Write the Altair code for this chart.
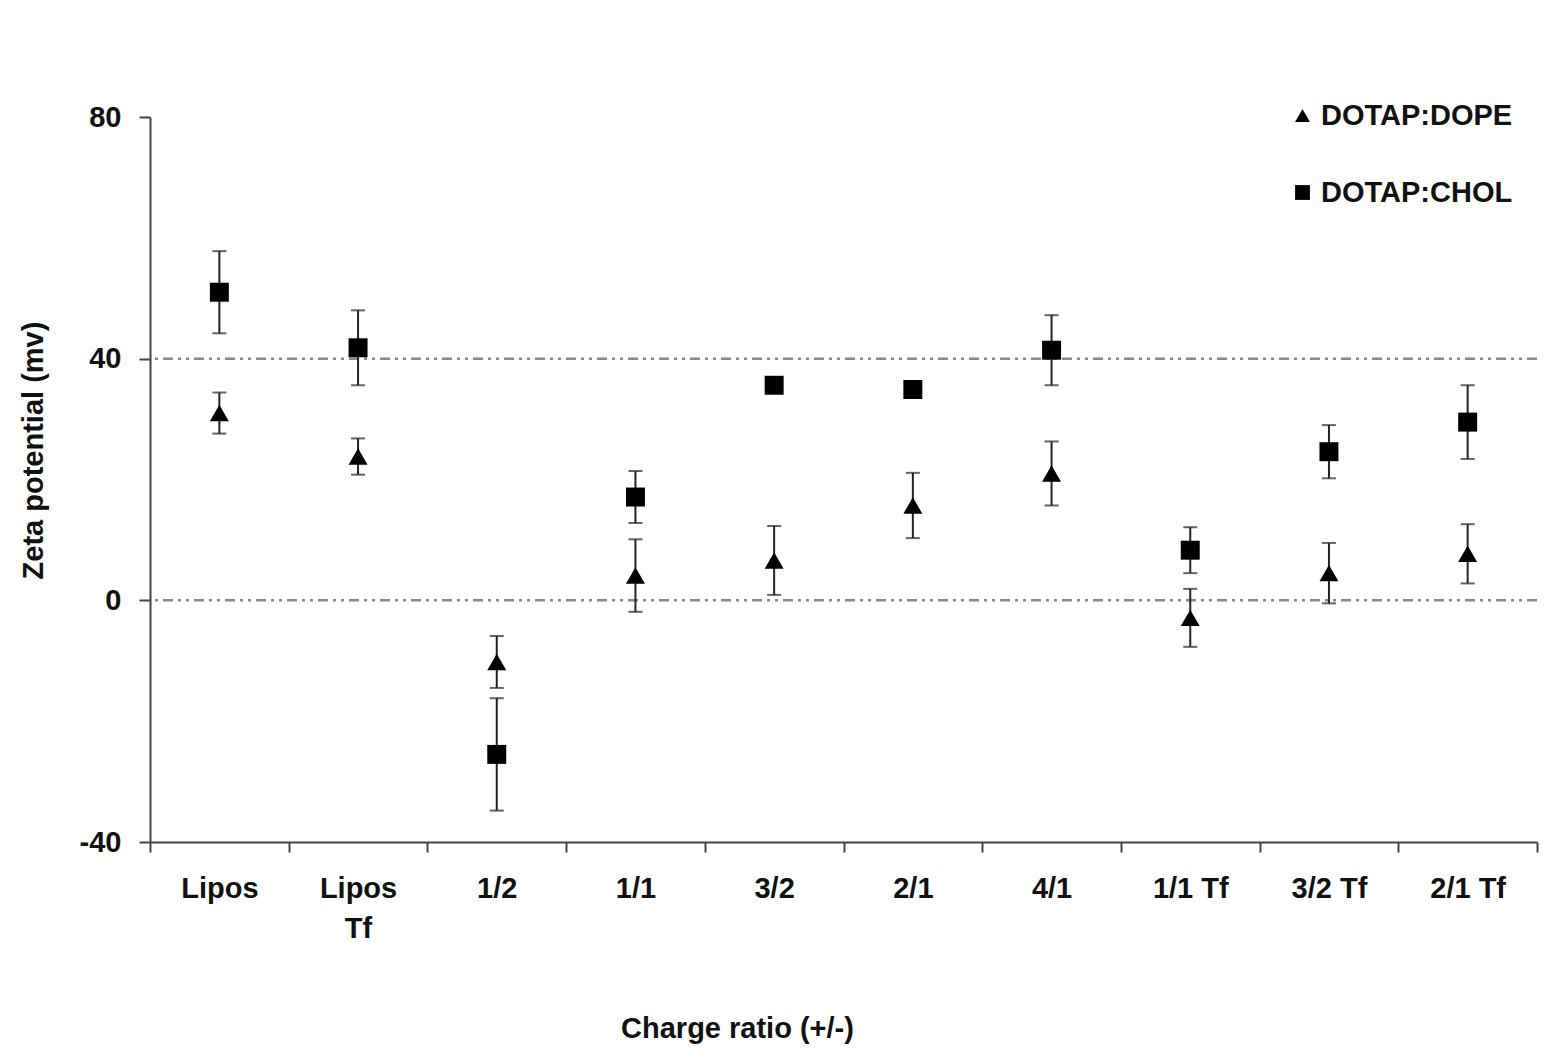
import altair as alt
import pandas as pd

categories = ["Lipos", "Lipos Tf", "1/2", "1/1", "3/2", "2/1", "4/1", "1/1 Tf", "3/2 Tf", "2/1 Tf"]
dope_mean = [31.0, 23.8, -10.2, 4.1, 6.6, 15.7, 21.0, -2.9, 4.5, 7.7]
dope_err = [3.4, 3.0, 4.3, 6.0, 5.7, 5.4, 5.3, 4.8, 5.0, 4.9]
chol_mean = [51.0, 41.8, -25.5, 17.1, 35.6, 34.9, 41.4, 8.3, 24.6, 29.5]
chol_err = [6.8, 6.2, 9.3, 4.3, 0.4, 0.8, 5.8, 3.8, 4.4, 6.1]
series = ["DOTAP:DOPE", "DOTAP:CHOL"]
ref_lines = [0, 40]
y_ticks = [-40, 0, 40, 80]

rows = []
for i, c in enumerate(categories):
    rows.append({"cat": c, "series": series[0], "mean": dope_mean[i],
                 "lo": dope_mean[i] - dope_err[i], "hi": dope_mean[i] + dope_err[i]})
    rows.append({"cat": c, "series": series[1], "mean": chol_mean[i],
                 "lo": chol_mean[i] - chol_err[i], "hi": chol_mean[i] + chol_err[i]})
df = pd.DataFrame(rows)
ref_df = pd.DataFrame({"y": ref_lines})

FONT = "Liberation Sans"

x_enc = alt.X(
    "cat:N",
    sort=categories,
    scale=alt.Scale(domain=categories, paddingInner=0, paddingOuter=0),
    axis=alt.Axis(
        title="Charge ratio (+/-)",
        labelAngle=0,
        tickBand="extent",
        tickSize=10,
        tickWidth=2,
        tickColor="#444",
        domainColor="#444",
        domainWidth=2,
        labelPadding=22,
        labelFontSize=29,
        labelFont=FONT,
        labelFontWeight="bold",
        labelColor="#111",
        labelLineHeight=40,
        labelExpr="datum.value == 'Lipos Tf' ? ['Lipos', 'Tf'] : datum.label",
        titleFontSize=29,
        titleFont=FONT,
        titleFontWeight="bold",
        titleColor="#111",
        titleX=587,
        titleY=186,
        titleBaseline="middle",
        titleAlign="center",
    ),
)

y_scale = alt.Scale(domain=[-40, 80], nice=False, zero=False)
y_axis = alt.Axis(
    title="Zeta potential (mv)",
    values=y_ticks,
    grid=False,
    tickSize=11,
    tickWidth=2,
    tickColor="#444",
    domainColor="#444",
    domainWidth=2,
    labelPadding=18,
    labelFontSize=29,
    labelFont=FONT,
    labelFontWeight="bold",
    labelColor="#111",
    labelExpr="datum.value < 0 ? '-' + abs(datum.value) : '' + datum.value",
    titleFontSize=29,
    titleFont=FONT,
    titleFontWeight="bold",
    titleColor="#111",
    titleX=-117,
    titleY=333,
    titleAngle=-90,
    titleBaseline="middle",
    titleAlign="center",
)

refs = alt.Chart(ref_df).mark_rule(
    color="#888888", strokeWidth=2.5, strokeDash=[10, 5, 3, 5, 3, 5]
).encode(y=alt.Y("y:Q", scale=y_scale, axis=y_axis))

bars = alt.Chart(df).mark_rule(color="#222", strokeWidth=2).encode(
    x=x_enc,
    y=alt.Y("lo:Q", scale=y_scale, axis=y_axis),
    y2="hi:Q",
)

caps_lo = alt.Chart(df).mark_tick(color="#222", size=14, thickness=2).encode(
    x=alt.X("cat:N", sort=categories), y=alt.Y("lo:Q", scale=y_scale)
)
caps_hi = alt.Chart(df).mark_tick(color="#222", size=14, thickness=2).encode(
    x=alt.X("cat:N", sort=categories), y=alt.Y("hi:Q", scale=y_scale)
)

points = alt.Chart(df).mark_point(filled=True, opacity=1, color="#000", size=360).encode(
    x=alt.X("cat:N", sort=categories),
    y=alt.Y("mean:Q", scale=y_scale),
    shape=alt.Shape(
        "series:N",
        sort=series,
        scale=alt.Scale(domain=series, range=["triangle-up", "square"]),
        legend=alt.Legend(
            title=None,
            orient="none",
            legendX=1138,
            legendY=-16,
            padding=0,
            symbolSize=220,
            symbolFillColor="#000",
            symbolStrokeColor="#000",
            symbolOpacity=1,
            labelFontSize=29,
            labelFont=FONT,
            labelFontWeight="bold",
            labelColor="#111",
            labelOffset=4,
            labelLimit=400,
            rowPadding=47,
        ),
    ),
)

chart = (
    alt.layer(refs, bars, caps_lo, caps_hi, points)
    .properties(
        width=1387,
        height=725,
        autosize=alt.AutoSizeParams(type="none"),
        padding={"left": 150, "top": 117, "right": 16, "bottom": 211},
        background="white",
    )
    .configure_view(stroke=None)
)

chart.save("out.html", embed_options={"renderer": "svg", "actions": False})
